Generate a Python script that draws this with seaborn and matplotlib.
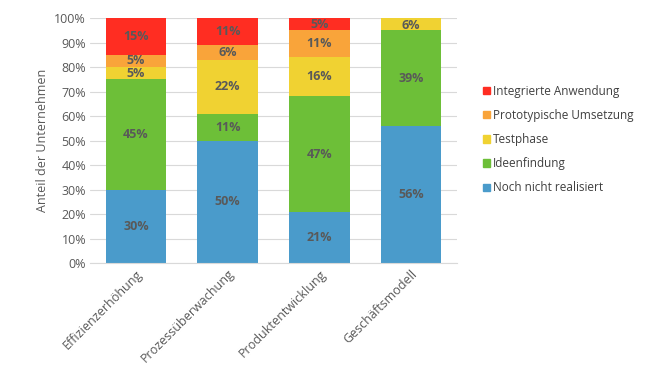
import numpy as np
import pandas as pd
import matplotlib
matplotlib.use('Agg')
import matplotlib.pyplot as plt
import seaborn as sns
from matplotlib.patches import Patch

# Daten
kategorien = ['Effizienzerhöhung', 'Prozessüberwachung', 'Produktentwicklung', 'Geschäftsmodell']
noch_nicht = [30, 50, 21, 56]
ideen = [45, 11, 47, 39]
test = [5, 22, 16, 6]
prototyp = [5, 6, 11, 0]
integriert = [15, 11, 5, 0]

serien = ['Noch nicht realisiert', 'Ideenfindung', 'Testphase',
          'Prototypische Umsetzung', 'Integrierte Anwendung']
werte = [noch_nicht, ideen, test, prototyp, integriert]
farben = ['#4A9BCB', '#6DBF38', '#F0D232', '#F9A43A', '#FF2D22']

sns.set_style('white')
plt.rcParams['font.family'] = ['Open Sans', 'DejaVu Sans']

fig = plt.figure(figsize=(6.49, 3.69), dpi=100)
ax = fig.add_axes([0.139, 0.287, 0.565, 0.664])

bottom = np.zeros(len(kategorien))
for name, vals, col in zip(serien, werte, farben):
    df = pd.DataFrame({'kat': kategorien, 'wert': vals})
    sns.barplot(data=df, x='kat', y='wert', color=col, width=0.66,
                bottom=bottom, ax=ax, errorbar=None, linewidth=0, saturation=1)
    for i, v in enumerate(vals):
        if v > 0:
            mitte = bottom[i] + v / 2
            if bottom[i] + v > 100:
                mitte = 100 - v / 2
            ax.text(i, mitte, f'{v}%', ha='center', va='center',
                    fontsize=9, fontweight='bold', color='#595959')
    bottom += np.array(vals)

ax.set_ylim(0, 100)
ax.set_xlim(-0.5, 3.5)
ax.set_yticks(np.arange(0, 101, 10))
ax.set_yticklabels([f'{t}%' for t in range(0, 101, 10)], fontsize=9, color='#595959')
ax.yaxis.grid(True, color='#D9D9D9', linewidth=0.8)
ax.set_axisbelow(True)
ax.set_xticks(range(4))
ax.set_xticklabels(kategorien, rotation=45, ha='right', rotation_mode='anchor',
                   fontsize=9, color='#595959')
ax.set_xlabel('')
ax.set_ylabel('Anteil der Unternehmen', fontsize=9, color='#595959')
ax.tick_params(axis='both', length=0, pad=3)
# Trennstriche zwischen Kategorien
ax.set_xticks([0.5, 1.5, 2.5, 3.5], minor=True)
ax.tick_params(axis='x', which='minor', length=4, color='#D9D9D9', direction='out')
for s in ['top', 'right', 'left']:
    ax.spines[s].set_visible(False)
ax.spines['bottom'].set_color('#D9D9D9')

handles = [Patch(color=c, label=n) for n, c in zip(serien, farben)][::-1]
fig.legend(handles=handles, loc='center left', bbox_to_anchor=(0.728, 0.622),
           frameon=False, fontsize=8.5, handlelength=0.6, handleheight=0.6,
           handletextpad=0.25, labelspacing=0.95, labelcolor='#404040')

fig.savefig('out.png', dpi=100)
